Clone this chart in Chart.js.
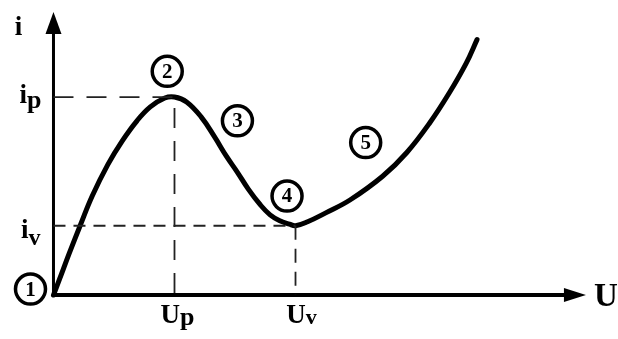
<!DOCTYPE html>
<html>
<head>
<meta charset="utf-8">
<script src="https://cdn.jsdelivr.net/npm/chart.js@4.4.1/dist/chart.umd.min.js"></script>
<style>
  html, body { margin: 0; padding: 0; background: #fff; }
  #wrap { width: 618px; height: 339px; }
</style>
</head>
<body>
<div id="wrap"><canvas id="c"></canvas></div>
<script>
// tunnel diode characteristic, units: U/Up and i/ip
const uPeak = 1, iPeak = 1;
const uValley = 2, iValley = 0.35;

const curveU = [0, 0.05, 0.13, 0.22, 0.32, 0.45, 0.57, 0.69, 0.8, 0.92, 1, 1.1, 1.22, 1.33, 1.43, 1.52, 1.61, 1.71, 1.79, 1.87, 1.95, 2, 2.1, 2.25, 2.45, 2.72, 2.92, 3.11, 3.27, 3.41, 3.5];
const curveI = [0, 0.08, 0.21, 0.35, 0.5, 0.66, 0.78, 0.88, 0.95, 0.995, 1, 0.975, 0.9, 0.8, 0.7, 0.62, 0.535, 0.455, 0.405, 0.375, 0.358, 0.35, 0.37, 0.415, 0.48, 0.6, 0.72, 0.87, 1.02, 1.17, 1.29];

// numbered regions of the curve
const regionNums = ['1', '2', '3', '4', '5'];
const regionU = [-0.19, 0.94, 1.52, 1.93, 2.58];
const regionI = [0.03, 1.13, 0.88, 0.5, 0.77];

const uAxisEnd = 4.40, iAxisEnd = 1.43;

const serif = '"Liberation Serif", "DejaVu Serif", serif';

const curve = curveU.map((u, k) => ({ x: u, y: curveI[k] }));
const peakGuide = [{ x: 0, y: iPeak }, { x: uPeak, y: iPeak }, { x: uPeak, y: 0 }];
const valleyGuideH = [{ x: 0, y: iValley }, { x: uValley, y: iValley }];
const valleyGuideV = [{ x: uValley, y: iValley }, { x: uValley, y: 0 }];
const regions = regionU.map((u, k) => ({ x: u, y: regionI[k] }));

// axes with arrow heads
const axesPlugin = {
  id: 'axes',
  beforeDatasetsDraw(chart) {
    const { ctx, scales: { x, y } } = chart;
    const x0 = x.getPixelForValue(0), y0 = y.getPixelForValue(0);
    const xEnd = x.getPixelForValue(uAxisEnd), yEnd = y.getPixelForValue(iAxisEnd);
    ctx.save();
    ctx.strokeStyle = '#000';
    ctx.fillStyle = '#000';
    ctx.lineWidth = 3;
    ctx.beginPath();
    ctx.moveTo(x0, y0 + 1);
    ctx.lineTo(x0, yEnd + 10);
    ctx.stroke();
    ctx.lineWidth = 4;
    ctx.beginPath();
    ctx.moveTo(x0 - 1, y0);
    ctx.lineTo(xEnd - 10, y0);
    ctx.stroke();
    ctx.beginPath();
    ctx.moveTo(x0, yEnd);
    ctx.lineTo(x0 - 8, yEnd + 22);
    ctx.lineTo(x0 + 8, yEnd + 22);
    ctx.closePath();
    ctx.fill();
    ctx.beginPath();
    ctx.moveTo(xEnd, y0);
    ctx.lineTo(xEnd - 22, y0 - 7);
    ctx.lineTo(xEnd - 22, y0 + 7);
    ctx.closePath();
    ctx.fill();
    ctx.restore();
  }
};

function subText(ctx, main, sub, px, py, size, subSize, drop, align) {
  ctx.font = `bold ${size}px ${serif}`;
  const w1 = ctx.measureText(main).width;
  ctx.font = `bold ${subSize}px ${serif}`;
  const w2 = ctx.measureText(sub).width;
  let left = px;
  if (align === 'center') left = px - (w1 + w2) / 2;
  if (align === 'right') left = px - (w1 + w2);
  ctx.textAlign = 'left';
  ctx.textBaseline = 'alphabetic';
  ctx.font = `bold ${size}px ${serif}`;
  ctx.fillText(main, left, py);
  ctx.font = `bold ${subSize}px ${serif}`;
  ctx.fillText(sub, left + w1, py + drop);
}

const labelsPlugin = {
  id: 'labels',
  afterDatasetsDraw(chart) {
    const { ctx, scales: { x, y } } = chart;
    const x0 = x.getPixelForValue(0), y0 = y.getPixelForValue(0);
    ctx.save();
    ctx.fillStyle = '#000';
    ctx.font = `bold 27px ${serif}`;
    ctx.textAlign = 'center';
    ctx.textBaseline = 'alphabetic';
    ctx.fillText('i', x0 - 35, y.getPixelForValue(iAxisEnd) + 23);
    ctx.font = `bold 33px ${serif}`;
    ctx.textAlign = 'left';
    ctx.fillText('U', x.getPixelForValue(uAxisEnd) + 8, y0 + 11);

    subText(ctx, 'i', 'p', x0 - 12, y.getPixelForValue(iPeak) + 6, 27, 26, 5, 'right');
    subText(ctx, 'i', 'v', x0 - 13, y.getPixelForValue(iValley) + 12, 27, 24, 7, 'right');
    subText(ctx, 'U', 'p', x.getPixelForValue(uPeak) + 3, y0 + 28, 27, 26, 2, 'center');
    subText(ctx, 'U', 'v', x.getPixelForValue(uValley) + 6, y0 + 28, 27, 22, 1, 'center');

    // numbers inside the circles
    const meta = chart.getDatasetMeta(4);
    ctx.font = `bold 21px ${serif}`;
    ctx.textAlign = 'center';
    ctx.textBaseline = 'middle';
    meta.data.forEach((pt, k) => {
      ctx.fillText(regionNums[k], pt.x, pt.y + 1);
    });
    ctx.restore();
  }
};

new Chart(document.getElementById('c'), {
  type: 'line',
  data: {
    datasets: [
      {
        data: peakGuide,
        borderColor: '#222',
        borderWidth: 1.8,
        borderDash: [20, 13],
        pointRadius: 0,
        tension: 0
      },
      {
        data: valleyGuideH,
        borderColor: '#222',
        borderWidth: 1.8,
        borderDash: [12, 8],
        pointRadius: 0,
        tension: 0
      },
      {
        data: valleyGuideV,
        borderColor: '#222',
        borderWidth: 1.8,
        borderDash: [14, 9],
        pointRadius: 0,
        tension: 0
      },
      {
        data: curve,
        borderColor: '#000',
        borderWidth: 5,
        pointRadius: 0,
        tension: 0.4,
        borderCapStyle: 'round'
      },
      {
        data: regions,
        showLine: false,
        pointRadius: 15,
        pointBorderWidth: 3.5,
        pointBackgroundColor: '#fff',
        pointBorderColor: '#000'
      }
    ]
  },
  options: {
    responsive: true,
    maintainAspectRatio: false,
    animation: false,
    devicePixelRatio: 1,
    layout: { padding: 0, autoPadding: false },
    clip: false,
    scales: {
      x: { type: 'linear', display: false, min: -0.442, max: 4.665 },
      y: { type: 'linear', display: false, min: -0.222, max: 1.49 }
    },
    plugins: {
      legend: { display: false },
      tooltip: { enabled: false }
    }
  },
  plugins: [axesPlugin, labelsPlugin]
});
</script>
</body>
</html>
